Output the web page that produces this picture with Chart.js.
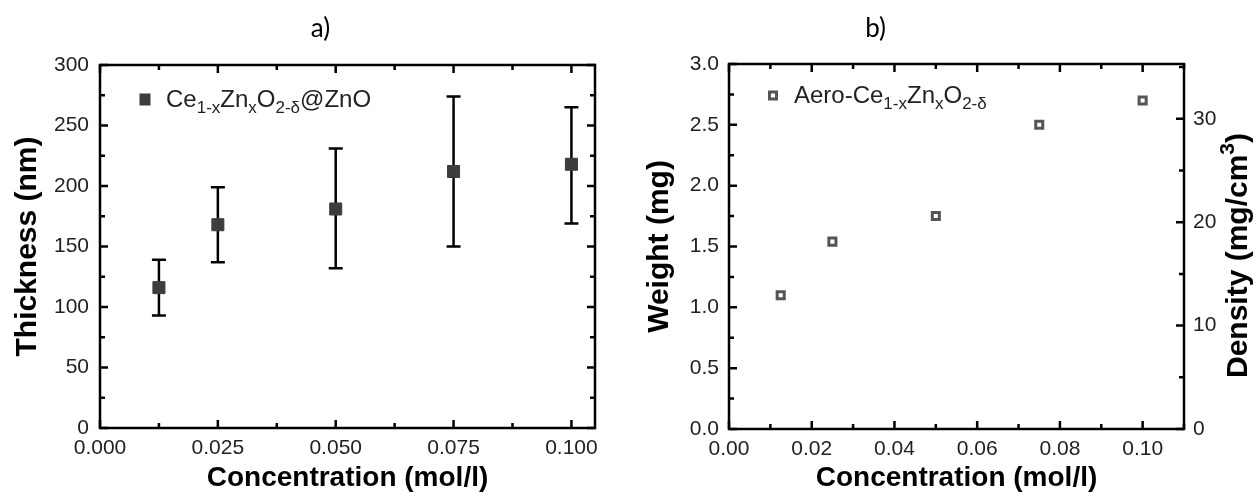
<!DOCTYPE html>
<html>
<head>
<meta charset="utf-8">
<script src="https://cdn.jsdelivr.net/npm/chart.js@4.4.0/dist/chart.umd.min.js"></script>
<style>
  html, body { margin: 0; padding: 0; background: #fff; }
  #wrap { position: relative; width: 1257px; height: 498px; }
  #chartA { position: absolute; left: 0; top: 0; }
  #chartB { position: absolute; left: 620px; top: 0; }
</style>
</head>
<body>
<div id="wrap">
  <canvas id="chartA" width="620" height="498"></canvas>
  <canvas id="chartB" width="637" height="498"></canvas>
</div>
<script>
// data
const concentration = [0.0125, 0.025, 0.05, 0.075, 0.1];
const thickness = [116, 168, 181, 212, 218];
const thicknessHigh = [139, 199, 231, 274, 265];
const thicknessLow = [93, 137, 132, 150, 169];
const weight = [1.1, 1.54, 1.75, 2.5, 2.7];

// rich labels: [text, "sub" | "sup"]
const legendA = [["Ce"], ["1-x", "sub"], ["Zn"], ["x", "sub"], ["O"], ["2-δ", "sub"], ["@ZnO"]];
const legendB = [["Aero-Ce"], ["1-x", "sub"], ["Zn"], ["x", "sub"], ["O"], ["2-δ", "sub"]];
const densityTitle = [["Density (mg/cm"], ["3", "sup"], [")"]];

const FONT = '"Liberation Sans", Arial, sans-serif';

function richText(ctx, parts, x, y, size, bold, draw) {
  let cx = x;
  parts.forEach(([t, kind]) => {
    const s = kind ? Math.round(size * 0.7) : size;
    ctx.font = (bold ? "bold " : "") + s + "px " + FONT;
    const dy = kind === "sub" ? size * 0.25 : kind === "sup" ? -size * 0.42 : 0;
    if (draw) ctx.fillText(t, cx, y + dy);
    cx += ctx.measureText(t).width;
  });
  return cx - x;
}

// box round the plot and inward ticks, drawn from the scales
const frame = {
  id: "frame",
  afterDatasetsDraw(chart, args, opts) {
    const { ctx, chartArea: a } = chart;
    ctx.save();
    ctx.strokeStyle = "#000";
    ctx.lineWidth = 2.5;
    (opts.ticks || []).forEach((t) => {
      const sc = chart.scales[t.scale];
      const n = Math.floor((sc.max - sc.min) / t.minor + 1e-6);
      ctx.beginPath();
      for (let i = 0; i <= n; i++) {
        const p = sc.getPixelForValue(sc.min + i * t.minor);
        const len = i % t.every === 0 ? 8 : 5;
        t.sides.forEach((side) => {
          if (side === "bottom") { ctx.moveTo(p, a.bottom); ctx.lineTo(p, a.bottom - len); }
          if (side === "top") { ctx.moveTo(p, a.top); ctx.lineTo(p, a.top + len); }
          if (side === "left") { ctx.moveTo(a.left, p); ctx.lineTo(a.left + len, p); }
          if (side === "right") { ctx.moveTo(a.right, p); ctx.lineTo(a.right - len, p); }
        });
      }
      ctx.stroke();
    });
    ctx.strokeRect(a.left, a.top, a.right - a.left, a.bottom - a.top);
    ctx.restore();
  },
};

const errorBars = {
  id: "errorBars",
  beforeDatasetsDraw(chart, args, opts) {
    if (!opts.high) return;
    const { ctx } = chart;
    const x = chart.scales.x, y = chart.scales.y;
    ctx.save();
    ctx.strokeStyle = "#000";
    ctx.lineWidth = 2.5;
    ctx.beginPath();
    opts.x.forEach((c, i) => {
      const px = x.getPixelForValue(c);
      const top = y.getPixelForValue(opts.high[i]);
      const bot = y.getPixelForValue(opts.low[i]);
      ctx.moveTo(px, top); ctx.lineTo(px, bot);
      ctx.moveTo(px - 7, top); ctx.lineTo(px + 7, top);
      ctx.moveTo(px - 7, bot); ctx.lineTo(px + 7, bot);
    });
    ctx.stroke();
    ctx.restore();
  },
};

// panel letter, legend with subscripts, rotated right-hand title
const decor = {
  id: "decor",
  afterDraw(chart, args, opts) {
    const { ctx, chartArea: a } = chart;
    ctx.save();
    ctx.fillStyle = "#000";
    ctx.font = '26px Lato, "Open Sans", sans-serif';
    ctx.textAlign = "center";
    ctx.textBaseline = "alphabetic";
    ctx.fillText(opts.panel, (a.left + a.right) / 2 + opts.panelDx, 37);

    ctx.textAlign = "left";
    const mx = a.left + opts.legendDx, my = a.top + opts.legendDy;
    if (opts.hollow) {
      ctx.strokeStyle = "#555";
      ctx.lineWidth = 3;
      ctx.strokeRect(mx - 3.5, my - 3.5, 7, 7);
    } else {
      ctx.fillStyle = "#3d3d3d";
      ctx.fillRect(mx - 5.5, my - 6, 11, 12);
    }
    ctx.fillStyle = "#222";
    richText(ctx, opts.legend, mx + 21, my + 7, 24, false, true);

    if (opts.rightTitle) {
      ctx.fillStyle = "#000";
      ctx.translate(a.right + 63, (a.top + a.bottom) / 2 + 9);
      ctx.rotate(-Math.PI / 2);
      const w = richText(ctx, opts.rightTitle, 0, 0, 30, true, false);
      richText(ctx, opts.rightTitle, -w / 2, 0, 30, true, true);
    }
    ctx.restore();
  },
};

function tickFont(size) {
  return { family: FONT, size: size };
}

new Chart(document.getElementById("chartA"), {
  type: "scatter",
  data: {
    datasets: [{
      data: concentration.map((c, i) => ({ x: c, y: thickness[i] })),
      pointStyle: "rect",
      pointRadius: 8.5,
      borderWidth: 1,
      backgroundColor: "#3d3d3d",
      borderColor: "#3d3d3d",
    }],
  },
  options: {
    responsive: false,
    animation: false,
    events: [],
    layout: { padding: { top: 65, right: 25, left: 0, bottom: 0 } },
    scales: {
      x: {
        min: 0, max: 0.105,
        grid: { display: false, drawTicks: false },
        border: { display: false },
        ticks: { stepSize: 0.025, includeBounds: false, padding: 8, color: "#222", font: tickFont(21),
                 maxRotation: 0, callback: (v) => v.toFixed(3) },
        title: { display: true, text: "Concentration (mol/l)", color: "#000",
                 font: { family: FONT, size: 28, weight: "bold" }, padding: { top: 0, bottom: 3 } },
        afterFit: (s) => { s.height = 70; },
      },
      y: {
        min: 0, max: 300,
        grid: { display: false, drawTicks: false },
        border: { display: false },
        ticks: { stepSize: 50, padding: 11, color: "#222", font: tickFont(21) },
        title: { display: true, text: "Thickness (nm)", color: "#000",
                 font: { family: FONT, size: 30, weight: "bold" }, padding: { top: 9.5, bottom: 0 } },
        afterFit: (s) => { s.width = 100; },
      },
    },
    plugins: {
      legend: { display: false },
      tooltip: { enabled: false },
      frame: { ticks: [
        { scale: "x", minor: 0.0125, every: 2, sides: ["bottom", "top"] },
        { scale: "y", minor: 25, every: 2, sides: ["left", "right"] },
      ] },
      errorBars: { x: concentration, high: thicknessHigh, low: thicknessLow },
      decor: { panel: "a)", panelDx: -27, legend: legendA, legendDx: 45, legendDy: 34.5, hollow: false },
    },
  },
  plugins: [errorBars, frame, decor],
});

new Chart(document.getElementById("chartB"), {
  type: "scatter",
  data: {
    datasets: [{
      data: concentration.map((c, i) => ({ x: c, y: weight[i] })),
      pointStyle: "rect",
      pointRadius: 5,
      borderWidth: 3,
      backgroundColor: "#fff",
      borderColor: "#555",
    }],
  },
  options: {
    responsive: false,
    animation: false,
    events: [],
    layout: { padding: { top: 64, right: 0, left: 0, bottom: 0 } },
    scales: {
      x: {
        min: 0, max: 0.11,
        grid: { display: false, drawTicks: false },
        border: { display: false },
        ticks: { stepSize: 0.02, includeBounds: false, padding: 8, color: "#222", font: tickFont(21),
                 maxRotation: 0, callback: (v) => v.toFixed(2) },
        title: { display: true, text: "Concentration (mol/l)", color: "#000",
                 font: { family: FONT, size: 28, weight: "bold" }, padding: { top: 0, bottom: 3 } },
        afterFit: (s) => { s.height = 69; },
      },
      y: {
        min: 0, max: 3,
        grid: { display: false, drawTicks: false },
        border: { display: false },
        ticks: { stepSize: 0.5, padding: 10, color: "#222", font: tickFont(21), callback: (v) => v.toFixed(1) },
        title: { display: true, text: "Weight (mg)", color: "#000",
                 font: { family: FONT, size: 30, weight: "bold" }, padding: { top: 21.5, bottom: 0 } },
        afterFit: (s) => { s.width = 109; },
      },
      y2: {
        position: "right",
        min: 0, max: 35.3,
        grid: { display: false, drawTicks: false },
        border: { display: false },
        ticks: { stepSize: 10, includeBounds: false, padding: 9, color: "#222", font: tickFont(21) },
        afterFit: (s) => { s.width = 73; },
      },
    },
    plugins: {
      legend: { display: false },
      tooltip: { enabled: false },
      frame: { ticks: [
        { scale: "x", minor: 0.01, every: 2, sides: ["bottom", "top"] },
        { scale: "y", minor: 0.25, every: 2, sides: ["left"] },
        { scale: "y2", minor: 5, every: 2, sides: ["right"] },
      ] },
      decor: { panel: "b)", panelDx: -81, legend: legendB, legendDx: 44, legendDy: 31.5, hollow: true,
               rightTitle: densityTitle },
    },
  },
  plugins: [frame, decor],
});
</script>
</body>
</html>
